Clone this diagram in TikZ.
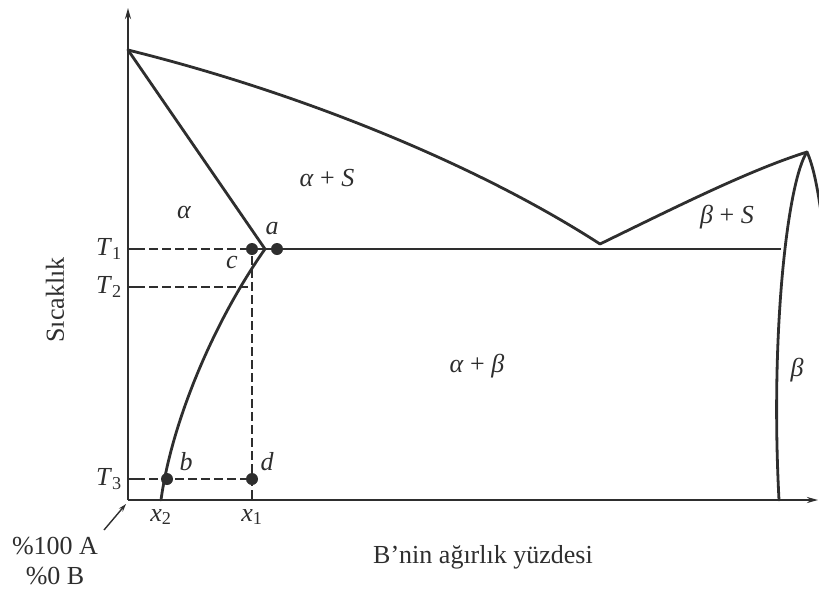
\documentclass[tikz,border=0pt]{standalone}
\usepackage{fontspec}
\setmainfont{Liberation Serif}
\usetikzlibrary{arrows.meta,positioning}
\definecolor{ink}{HTML}{2E2E2E}

\begin{document}
\begin{tikzpicture}[
x=1pt, y=-1pt,
every node/.style={font=\fontsize{26}{30}\selectfont, text=ink, inner sep=1pt},
curve/.style={line width=2.8pt, draw=ink, line cap=round},
axis/.style={line width=2pt, draw=ink, -{Stealth[length=11pt,width=6pt]}},
guide/.style={line width=1.4pt, draw=ink, dash pattern=on 9pt off 4pt},
dot/.style={circle, fill=ink, inner sep=0pt, minimum size=12pt},
phase/.style={font=\fontsize{26}{30}\selectfont\itshape},
tick/.style={line width=1.6pt, draw=ink}
]
\useasboundingbox (0,0) rectangle (819,590);

% -------- Axes --------
\coordinate (O) at (128,500);
\coordinate (ytop) at (128,8);
\coordinate (xend) at (818,500);
\draw[axis] (O) -- (ytop);
\draw[axis] (O) -- (xend);

% -------- Liquidus / Solidus --------
\coordinate (TA) at (128,50);
\coordinate (E) at (600,244);
\coordinate (TB) at (807,152);
\coordinate (a) at (265,249);
\coordinate (betaL) at (781,249);
\coordinate (x2) at (161,500);
\coordinate (betaB) at (779,500);

\draw[curve] (TA) .. controls (290,90) and (470,160) .. (E);
\draw[curve] (E) .. controls (680,205) and (750,170) .. (TB);
\draw[curve] (TA) -- (a);

% eutectic line
\draw[line width=1.8pt, draw=ink] (252,249) -- (betaL);

% -------- Solvus lines --------
\draw[curve] (a) .. controls (215,320) and (172,420) .. (x2);
\draw[curve] (TB) .. controls (788,180) and (770,330) .. (betaB);
\begin{scope}
\clip (0,0) rectangle (819,590);
\draw[curve] (TB) .. controls (816,172) and (822,210) .. (830,290);
\end{scope}

% -------- Guides --------
\coordinate (y1) at (128,249);
\coordinate (y2) at (128,287);
\coordinate (y3) at (128,479);
\coordinate (t1) at (136,249);
\coordinate (t2) at (136,287);
\coordinate (t3) at (136,479);
\coordinate (x1) at (252,500);
\draw[tick] (y1) -- (t1);
\draw[tick] (y2) -- (t2);
\draw[tick] (y3) -- (t3);
\draw[guide] (t1) -- (250,249);
\draw[guide] (t2) -- (248,287);
\draw[guide] (t3) -- (252,479);
\draw[guide] (252,256) -- (x1);

\node[dot] (c) at (252,249) {};
\node[dot] (pa) at (277,249) {};
\node[dot] (b) at (167,479) {};
\node[dot] (d) at (252,479) {};

% -------- Labels --------
\node[left=5pt of y1] {\textit{T}\textsubscript{1}};
\node[left=5pt of y2] {\textit{T}\textsubscript{2}};
\node[left=5pt of y3] {\textit{T}\textsubscript{3}};
\node[below=8pt of x2] {\textit{x}\textsubscript{2}};
\node[below=8pt of x1] {\textit{x}\textsubscript{1}};

\node[phase] at (272,229) {a};
\node[phase] at (232,262) {c};
\node[phase] at (186,462) {b};
\node[phase] at (267,462) {d};

\node[phase] at (184,212) {α};
\node at (327,178) {\textit{α} + \textit{S}};
\node at (727,217) {\textit{β} + \textit{S}};
\node at (477,366) {\textit{α} + \textit{β}};
\node[phase] at (797,370) {β};

\node[rotate=90] at (55,300) {Sıcaklık};
\node at (483,557) {B'nin ağırlık yüzdesi};

\node (pctA) at (55,546) {\%100 A};
\node (pctB) at (55,576) {\%0 B};
\draw[line width=1.4pt, draw=ink, -{Stealth[length=8pt,width=5pt]}] (104,530) -- (126,504);

\end{tikzpicture}
\end{document}
